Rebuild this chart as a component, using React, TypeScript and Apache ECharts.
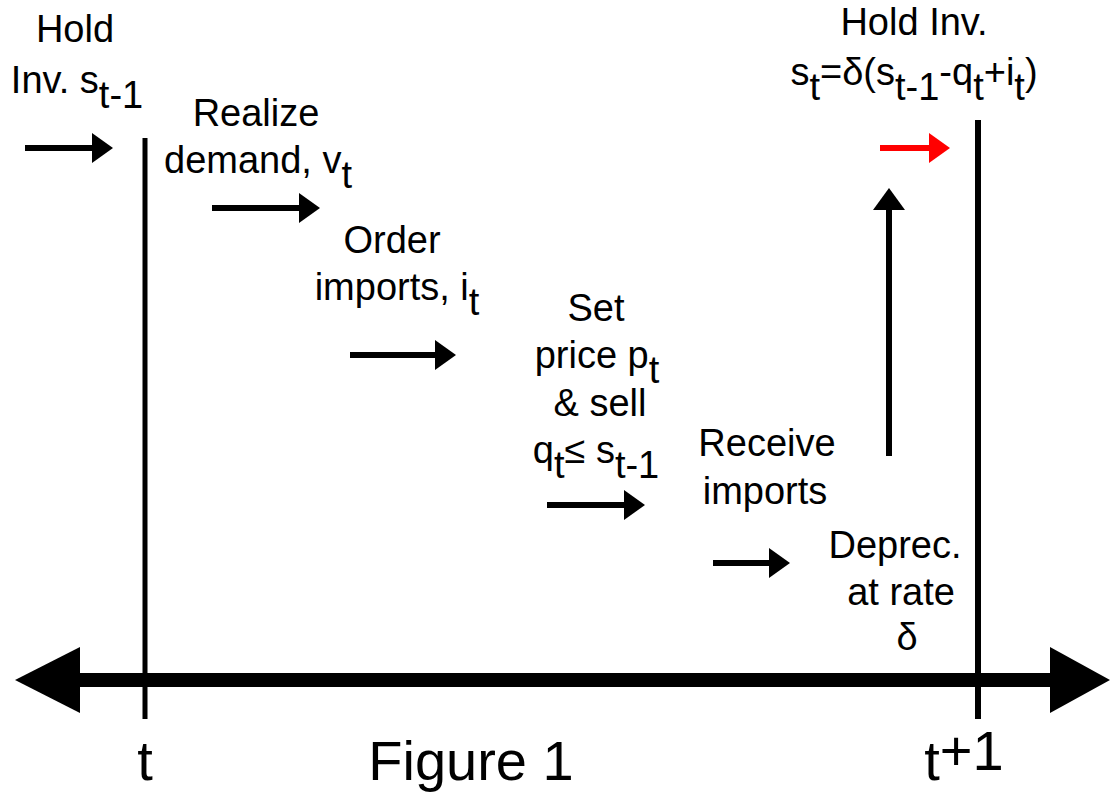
import React, { useEffect, useRef } from "react";
import * as echarts from "echarts";

const W = 1110;
const H = 792;
const FONT = '"Liberation Sans", Arial, Helvetica, sans-serif';

// ---- text content ----
const timeLabels = ["t", "t^{+1}"];
const figureTitle = "Figure 1";
const stepLabels: string[][] = [
  ["Hold", "Inv. s_{t-1}"],
  ["Realize", "demand, v_{t}"],
  ["Order", "imports, i_{t}"],
  ["Set", "price p_{t}", "& sell", "q_{t}≤ s_{t-1}"],
  ["Receive", "imports"],
  ["Deprec.", "at rate", "δ"],
  ["Hold Inv.", "s_{t}=δ(s_{t-1}-q_{t}+i_{t})"],
];
const arrowColors = ["#000000", "#000000", "#000000", "#000000", "#000000", "#ff0000"];

// ---- layout (positions only) ----
const labelLayout: { cx: number[]; cy: number[] }[] = [
  { cx: [75, 77], cy: [29, 80] },
  { cx: [256, 258], cy: [113, 160] },
  { cx: [392, 397], cy: [240, 287] },
  { cx: [596, 597, 600, 596], cy: [308, 355, 403, 450] },
  { cx: [767, 765], cy: [443, 491] },
  { cx: [895, 901, 907], cy: [545, 592, 637] },
  { cx: [914, 914], cy: [22, 72] },
];
const arrowLayout: [number, number, number][] = [
  [25, 113, 148],
  [212, 320, 208],
  [350, 456, 355],
  [547, 645, 505],
  [713, 790, 563],
  [880, 950, 148],
];

type Seg = { t: string; dy: number };
function parse(s: string): Seg[] {
  const segs: Seg[] = [];
  const re = /([_^])\{([^}]*)\}/g;
  let last = 0;
  let m: RegExpExecArray | null;
  while ((m = re.exec(s))) {
    if (m.index > last) segs.push({ t: s.slice(last, m.index), dy: 0 });
    segs.push({ t: m[2], dy: m[1] === "_" ? 1 : -1 });
    last = re.lastIndex;
  }
  if (last < s.length) segs.push({ t: s.slice(last), dy: 0 });
  return segs;
}

let ctx: CanvasRenderingContext2D | null = null;
function measure(t: string, size: number): number {
  if (!ctx) ctx = document.createElement("canvas").getContext("2d");
  if (!ctx) return t.length * size * 0.55;
  ctx.font = `${size}px ${FONT}`;
  return ctx.measureText(t).width;
}

function lineEls(str: string, cx: number, cy: number, size: number, subShift: number, supShift: number, fill = "#000") {
  const segs = parse(str);
  const widths = segs.map((s) => measure(s.t, size));
  const total = widths.reduce((a, b) => a + b, 0);
  let x = cx - total / 2;
  return segs.map((s, i) => {
    const el = {
      type: "text",
      x,
      y: cy + (s.dy > 0 ? subShift : s.dy < 0 ? -supShift : 0),
      style: {
        text: s.t,
        fontSize: size,
        fontFamily: FONT,
        fill,
        align: "left",
        verticalAlign: "middle",
      },
    };
    x += widths[i];
    return el;
  });
}

function hArrow(x1: number, x2: number, y: number, color: string) {
  return [
    { type: "line", shape: { x1, y1: y, x2: x2 - 16, y2: y }, style: { stroke: color, lineWidth: 6 } },
    {
      type: "polygon",
      shape: { points: [[x2 - 21, y - 15], [x2, y], [x2 - 21, y + 15]] },
      style: { fill: color },
    },
  ];
}

function buildElements() {
  const els: any[] = [];
  // main time axis
  els.push({ type: "line", shape: { x1: 75, y1: 680, x2: 1055, y2: 680 }, style: { stroke: "#000", lineWidth: 14 } });
  els.push({ type: "polygon", shape: { points: [[80, 647], [15, 680], [80, 713]] }, style: { fill: "#000" } });
  els.push({ type: "polygon", shape: { points: [[1050, 647], [1110, 680], [1050, 713]] }, style: { fill: "#000" } });
  // period markers
  els.push({ type: "line", shape: { x1: 145, y1: 138, x2: 145, y2: 719 }, style: { stroke: "#000", lineWidth: 5 } });
  els.push({ type: "line", shape: { x1: 978, y1: 120, x2: 978, y2: 719 }, style: { stroke: "#000", lineWidth: 6 } });
  // horizontal arrows
  arrowLayout.forEach(([a, b, y], i) => els.push(...hArrow(a, b, y, arrowColors[i])));
  // vertical arrow
  els.push({ type: "line", shape: { x1: 889, y1: 456, x2: 889, y2: 205 }, style: { stroke: "#000", lineWidth: 6 } });
  els.push({ type: "polygon", shape: { points: [[873, 210], [889, 188], [905, 210]] }, style: { fill: "#000" } });
  // step labels
  stepLabels.forEach((lines, i) => {
    const L = labelLayout[i];
    lines.forEach((ln, j) => els.push(...lineEls(ln, L.cx[j], L.cy[j], 38, 15, 12)));
  });
  // time labels and title
  els.push(...lineEls(timeLabels[0], 145, 760, 56, 0, 0));
  els.push(...lineEls(timeLabels[1], 964, 760, 56, 0, 10));
  els.push(...lineEls(figureTitle, 471, 760, 56, 0, 0));
  return els;
}

export default function App() {
  const ref = useRef<HTMLDivElement>(null);
  useEffect(() => {
    if (!ref.current) return;
    const chart = echarts.init(ref.current, null, { renderer: "svg" });
    chart.setOption({
      animation: false,
      backgroundColor: "#ffffff",
      graphic: { elements: buildElements() },
    });
    return () => chart.dispose();
  }, []);
  return (
    <div
      ref={ref}
      style={{ position: "fixed", left: 0, top: 0, width: W, height: H, background: "#fff" }}
    />
  );
}
